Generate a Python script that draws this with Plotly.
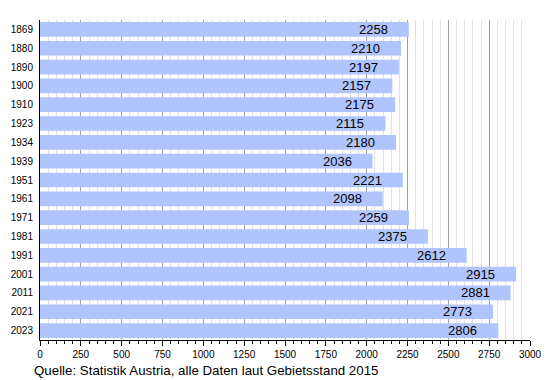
import plotly.graph_objects as go

years = ["1869", "1880", "1890", "1900", "1910", "1923", "1934", "1939", "1951",
         "1961", "1971", "1981", "1991", "2001", "2011", "2021", "2023"]
population = [2258, 2210, 2197, 2157, 2175, 2115, 2180, 2036, 2221,
              2098, 2259, 2375, 2612, 2915, 2881, 2773, 2806]
x_ticks = list(range(0, 3001, 250))

# page has an 8px body margin, so the figure is shrunk by that offset
OFF = 8
W, H = 550 - OFF, 380 - OFF
L, R, T, B = 40 - OFF, 20, 20 - OFF, 40
FONT = "Liberation Sans, Arial, sans-serif"

fig = go.Figure(go.Bar(
    x=population, y=years, orientation="h",
    marker=dict(color="#b0c4fe", line=dict(width=0)),
    width=0.78,
    hoverinfo="x+y",
))

# category axis: annotations are placed by category index
annotations = [dict(
    x=v, y=i, xref="x", yref="y", text=str(v),
    xanchor="right", yanchor="middle", xshift=-19, showarrow=False,
    font=dict(family=FONT, size=13, color="black"),
) for i, v in enumerate(population)]

annotations.append(dict(
    text="Quelle: Statistik Austria, alle Daten laut Gebietsstand 2015",
    xref="paper", yref="paper",
    x=(32 - 40) / (W - L - R), y=-(370 - 340) / (H - T - B),
    xanchor="left", yanchor="middle", showarrow=False,
    font=dict(family=FONT, size=13.3, color="black"),
))

fig.update_layout(
    width=W, height=H,
    margin=dict(l=L, r=R, t=T, b=B, autoexpand=False),
    plot_bgcolor="white", paper_bgcolor="white",
    showlegend=False,
    font=dict(family=FONT, size=10, color="black"),
    xaxis=dict(
        range=[0, 3000], tickvals=x_ticks, ticktext=[str(v) for v in x_ticks],
        showgrid=True, gridcolor="#a0a0a0", gridwidth=1,
        ticks="outside", ticklen=5, tickcolor="black",
        showline=True, linecolor="black", linewidth=1,
        zeroline=False, automargin=False,
        minor=dict(dtick=50, showgrid=True, gridcolor="#e0e0e0", gridwidth=1,
                   ticks="outside", ticklen=3, tickcolor="black"),
        tickfont=dict(size=10),
        fixedrange=True,
    ),
    yaxis=dict(
        type="category", categoryorder="array", categoryarray=years,
        range=[len(years) - 0.5, -0.5],
        showline=True, linecolor="black", linewidth=1,
        ticks="", showgrid=False, automargin=False,
        ticklabelstandoff=4,
        tickfont=dict(size=10),
        fixedrange=True,
    ),
    annotations=annotations,
)

fig.write_html("out.html")
